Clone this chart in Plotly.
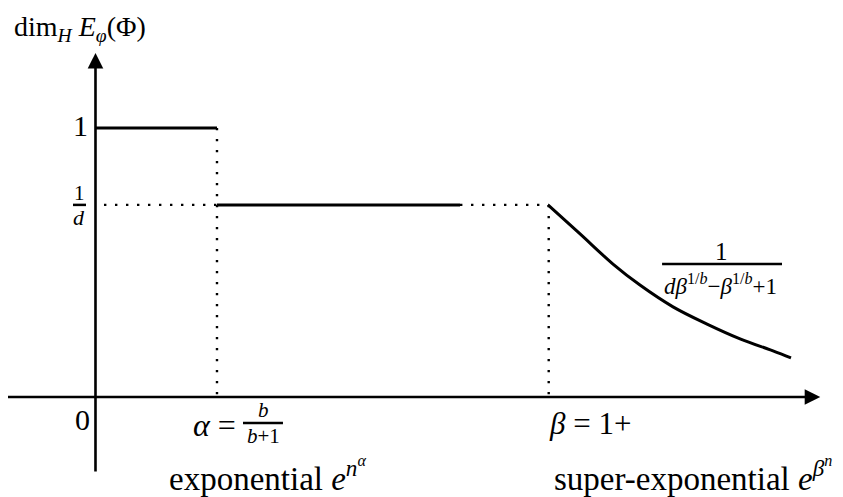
import plotly.graph_objects as go

# abscissa positions (alpha = 1 unit) and levels (dim = 1 at top step)
alpha_x = 1.0
plateau_end_x = 3.0
beta_x = 3.73
level_one = 1.0
level_inv_d = 0.714

# decreasing branch after beta
curve_x = [3.724, 3.988, 4.259, 4.481, 4.753, 5.033, 5.305, 5.576, 5.724]
curve_y = [0.714, 0.606, 0.494, 0.416, 0.335, 0.271, 0.216, 0.171, 0.145]

# axis extents
x_axis = [-0.745, 5.965]
y_axis = [-0.283, 1.279]
# the page has an 8px body margin, so the figure is 8px smaller and shifted
x_range = [-0.720, 6.152]
y_range = [-0.372, 1.446]

FONT = "Liberation Serif, DejaVu Serif, Times New Roman, serif"
BLACK = "black"
DOT = "2.4px,8.6px"

fig = go.Figure()

# dotted guides
fig.add_trace(go.Scatter(x=[0.07, alpha_x], y=[level_inv_d, level_inv_d], mode="lines",
                         line=dict(color=BLACK, width=2.4, dash=DOT)))
fig.add_trace(go.Scatter(x=[alpha_x, alpha_x], y=[level_one, 0], mode="lines",
                         line=dict(color=BLACK, width=2.4, dash=DOT)))
fig.add_trace(go.Scatter(x=[plateau_end_x, beta_x], y=[level_inv_d, level_inv_d], mode="lines",
                         line=dict(color=BLACK, width=2.4, dash=DOT)))
fig.add_trace(go.Scatter(x=[beta_x, beta_x], y=[level_inv_d, 0], mode="lines",
                         line=dict(color=BLACK, width=2.4, dash=DOT)))

# solid pieces
fig.add_trace(go.Scatter(x=[0, alpha_x], y=[level_one, level_one], mode="lines",
                         line=dict(color=BLACK, width=3)))
fig.add_trace(go.Scatter(x=[alpha_x, plateau_end_x], y=[level_inv_d, level_inv_d], mode="lines",
                         line=dict(color=BLACK, width=3)))
fig.add_trace(go.Scatter(x=curve_x, y=curve_y, mode="lines",
                         line=dict(color=BLACK, width=3, shape="spline", smoothing=1.0)))

# axes with arrow heads
fig.add_annotation(x=x_axis[1], y=0, ax=x_axis[0], ay=0, xref="x", yref="y",
                   axref="x", ayref="y", text="", showarrow=True,
                   arrowhead=2, arrowsize=1.2, arrowwidth=2.6, arrowcolor=BLACK)
fig.add_annotation(x=0, y=y_axis[1], ax=0, ay=y_axis[0], xref="x", yref="y",
                   axref="x", ayref="y", text="", showarrow=True,
                   arrowhead=2, arrowsize=1.2, arrowwidth=2.6, arrowcolor=BLACK)


def label(x, y, text, size=30, xanchor="center"):
    fig.add_annotation(x=x, y=y, text=text, showarrow=False, xref="x", yref="y",
                       xanchor=xanchor, yanchor="middle",
                       font=dict(family=FONT, size=size, color=BLACK))


def frac_bar(x0, x1, y, w=2.5):
    fig.add_shape(type="line", x0=x0, x1=x1, y0=y, y1=y, xref="x", yref="y",
                  line=dict(color=BLACK, width=w))


# y label
label(-0.69, 1.368, "dim<sub><i>H</i></sub> <i>E</i><sub><i>φ</i></sub>(Φ)", size=28, xanchor="left")

# tick-like labels
label(-0.045, 1.01, "1", xanchor="right")
label(-0.132, 0.757, "1", size=21)
frac_bar(-0.185, -0.078, level_inv_d)
label(-0.132, 0.666, "<i>d</i>", size=22)
label(-0.11, -0.085, "0")

label(1.173, -0.104, "<i>α</i> =", size=32, xanchor="right")
label(1.379, -0.050, "<i>b</i>", size=21)
frac_bar(1.214, 1.543, -0.097)
label(1.379, -0.147, "<i>b</i>+1", size=21)

label(4.07, -0.097, "<i>β</i> = 1+", size=31)

label(0.588, -0.29, "exponential <i>e</i><sup><i>n</i><sup><i>α</i></sup></sup>", size=33, xanchor="left")
label(3.757, -0.29, "super-exponential <i>e</i><sup><i>β</i><sup><i>n</i></sup></sup>", size=33, xanchor="left")

# curve formula
label(5.156, 0.542, "1", size=25)
frac_bar(4.663, 5.650, 0.494)
label(5.14, 0.418, "<i>dβ</i><sup>1/<i>b</i></sup>−<i>β</i><sup>1/<i>b</i></sup>+1", size=23)

fig.update_layout(
    width=835, height=489,
    margin=dict(l=0, r=0, t=0, b=0),
    paper_bgcolor="white", plot_bgcolor="white",
    showlegend=False,
    xaxis=dict(visible=False, range=x_range, fixedrange=True),
    yaxis=dict(visible=False, range=y_range, fixedrange=True),
)

fig.write_html("out.html")
